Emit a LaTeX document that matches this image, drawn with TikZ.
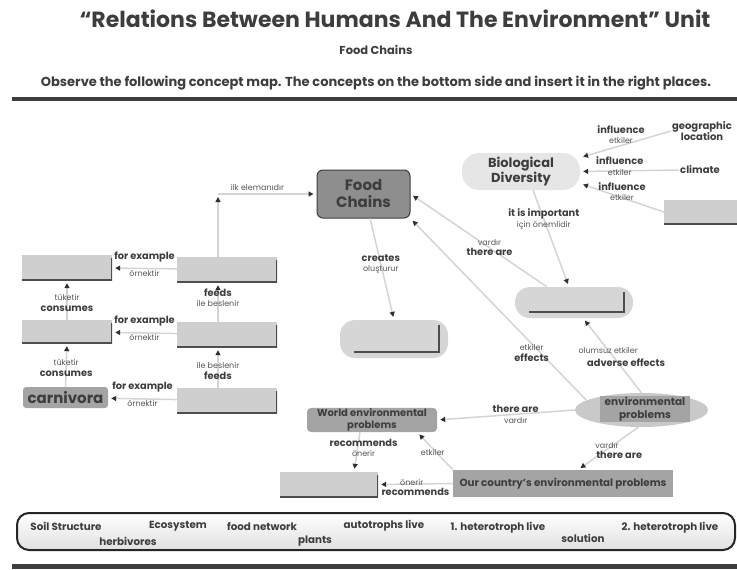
\documentclass[tikz,border=0pt]{standalone}
\usepackage{fontspec}
\setmainfont{Poppins}
\usepackage{tikz}
\usetikzlibrary{arrows.meta,calc,positioning,shapes}
\definecolor{ink}{HTML}{3D3D3D}
\definecolor{inklight}{HTML}{555555}
\definecolor{linkgray}{HTML}{D4D4D4}
\definecolor{tipgray}{HTML}{2F2F2F}
\definecolor{blankgray}{HTML}{CFCFCF}
\definecolor{pillgray}{HTML}{D6D6D6}
\definecolor{chaingray}{HTML}{8E8E8E}
\definecolor{diversgray}{HTML}{E6E6E6}
\definecolor{probgray}{HTML}{A4A4A4}
\definecolor{ellgray}{HTML}{C9C9C9}
\newcommand{\trk}[1]{{\fontsize{8}{9}\selectfont\mdseries\color{inklight}#1}}

\begin{document}
\begin{tikzpicture}[x=1pt,y=-1pt,
  lbl/.style={font=\fontsize{9.8}{10.5}\selectfont\bfseries,text=ink,align=center,inner sep=1pt},
  link/.style={draw=linkgray,line width=1.5pt,shorten >=3pt,-{Triangle[length=5pt,width=5pt,color=tipgray]}},
  blank/.style={fill=blankgray,minimum width=100pt,minimum height=25pt,inner sep=0pt,
    path picture={\draw[tipgray!85,line width=3pt]
      (path picture bounding box.south west) -- (path picture bounding box.south east)
      -- ([yshift=-3pt]path picture bounding box.north east);}},
  pill/.style={fill=pillgray,rounded corners=15pt,inner sep=0pt,
    path picture={\draw[tipgray!85,line width=1.6pt,sharp corners]
      ([xshift=14pt,yshift=6pt]path picture bounding box.south west)
      -- ([xshift=-9pt,yshift=6pt]path picture bounding box.south east)
      -- ([xshift=-9pt,yshift=-5pt]path picture bounding box.north east);}},
  concept/.style={font=\fontsize{10}{11.5}\selectfont\bfseries,text=ink,align=center,inner sep=1pt},
  word/.style={font=\fontsize{10.3}{12}\selectfont\bfseries,text=ink}]
\useasboundingbox (0,0) rectangle (737,570);

\node[font=\fontsize{22}{25}\selectfont\bfseries,text=ink] (title) at (395,19) {“Relations Between Humans And The Environment” Unit};
\node[font=\fontsize{11.5}{13}\selectfont\bfseries,text=ink] (sub) at (376,50) {Food Chains};
\node[font=\fontsize{13}{14}\selectfont\bfseries,text=ink] (task) at (376,83) {Observe the following concept map. The concepts on the bottom side and insert it in the right places.};
\draw[ink,line width=4pt] (12,99) -- (737,99);

\node[concept,fill=chaingray,draw=ink,line width=1pt,rounded corners=6pt,minimum width=93pt,minimum height=48pt,font=\fontsize{15}{17}\selectfont\bfseries] (chains) at (363.5,194) {Food\\Chains};
\node[concept,fill=diversgray,rounded corners=17pt,minimum width=118pt,minimum height=37pt,font=\fontsize{13}{15}\selectfont\bfseries] (diversity) at (521,171.5) {Biological\\Diversity};
\node[concept] (geo) at (702,131) {geographic\\location};
\node[concept] (climate) at (700,170) {climate};
\node[blank,minimum width=80pt,minimum height=24pt] (rblank) at (704,212) {};
\node[pill,minimum width=118pt,minimum height=31pt] (mpill) at (574,302.5) {};
\node[pill,minimum width=108pt,minimum height=38pt] (cpill) at (394,339) {};

\node[blank,minimum width=90pt] (l1) at (67,267.5) {};
\node[blank,minimum width=90pt,minimum height=23pt] (l2) at (67,331.5) {};
\node[concept,fill=probgray,rounded corners=3pt,minimum width=85pt,minimum height=21pt,font=\fontsize{15}{17}\selectfont\bfseries] (carn) at (65.5,397.5) {carnivora};
\node[blank] (r1) at (227,269.5) {};
\node[blank] (r2) at (227,334.5) {};
\node[blank] (r3) at (227,400.5) {};
\coordinate (corner) at (218,194);

\node[ellipse,fill=ellgray,minimum width=133pt,minimum height=34pt] (env) at (641.5,410) {};
\node[concept,fill=probgray,minimum width=90pt,font=\fontsize{10.5}{12.5}\selectfont\bfseries] (envtag) at (645,409) {environmental\\problems};
\node[concept,fill=probgray,rounded corners=4pt,minimum width=130pt,minimum height=24pt] (world) at (372,420) {World environmental\\problems};
\node[concept,fill=probgray,minimum width=220pt,minimum height=27pt,font=\fontsize{10.3}{12}\selectfont\bfseries] (our) at (563,483.5) {Our country’s environmental problems};
\node[blank,minimum width=98pt] (bb) at (329,484.5) {};

\path (geo.west) edge[link] node[lbl,pos=0.55,above=0pt]{influence\\\trk{etkiler}} ([yshift=14pt]diversity.east);
\path (climate.west) edge[link] node[lbl,pos=0.6,yshift=5pt]{influence\\\trk{etkiler}} (diversity.east);
\path (rblank.west) edge[link] node[lbl,pos=0.5,yshift=6pt]{influence\\\trk{etkiler}} ([yshift=-12pt]diversity.east);
\path ([xshift=12pt]diversity.south) edge[link] node[lbl,pos=0.3]{it is important\\\trk{için önemlidir}} ([xshift=-5pt]mpill.north);
\path (mpill.150) edge[link] node[lbl,pos=0.42]{\trk{vardır}\\there are} (chains.east);
\path (chains.-75) edge[link] node[lbl,pos=0.45]{creates\\\trk{oluşturur}} (cpill.north);
\path (env.north) edge[link] node[lbl,pos=0.57]{\trk{olumsuz etkiler}} node[lbl,pos=0.4,xshift=8pt]{adverse effects} (mpill.-60);
\path (env.170) edge[link] node[lbl,pos=0.26,xshift=-9pt]{\trk{etkiler}\\effects} (chains.south east);
\path (env.west) edge[link] node[lbl,pos=0.43]{there are\\\trk{vardır}} (world.east);
\path (env.-100) edge[link] node[lbl,pos=0.42,xshift=-6pt]{\trk{vardır}} node[lbl,pos=0.65,xshift=20pt]{there are} ([xshift=15pt]our.north);
\path (our.north west) edge[link] node[lbl,pos=0.45,xshift=-4pt]{\trk{etkiler}} ([xshift=-20pt]world.south east);
\path ([xshift=-12pt]world.south) edge[link] node[lbl,pos=0.4,xshift=6pt]{recommends\\\trk{önerir}} ([xshift=25pt]bb.north);
\path (our.west) edge[link] node[lbl,pos=0.55,above=-3pt]{\trk{önerir}} node[lbl,pos=0.5,below=2pt]{recommends} (bb.east);

\path ([xshift=-9pt]r1.north) edge[link] (corner);
\path (corner) edge[link] node[lbl,pos=0.4,above=2pt]{\trk{ilk elemanıdır}} (chains.west);
\path (r1) edge[link] node[lbl,above=5pt]{for example} node[lbl,below=0pt]{\trk{örnektir}} (l1);
\path (r2) edge[link] node[lbl,above=5pt]{for example} node[lbl,below=0pt]{\trk{örnektir}} (l2);
\path (r3) edge[link] node[lbl,above=5pt]{for example} node[lbl,below=0pt]{\trk{örnektir}} (carn);
\path (l2.north) edge[link] node[lbl,pos=0.43]{\trk{tüketir}\\consumes} (l1.south);
\path (carn.north) edge[link] node[lbl,pos=0.43]{\trk{tüketir}\\consumes} (l2.south);
\path ([xshift=-9pt]r2.north) edge[link] node[lbl,pos=0.61]{feeds\\\trk{ile beslenir}} ([xshift=-9pt]r1.south);
\path ([xshift=-9pt]r3.north) edge[link] node[lbl,pos=0.41]{\trk{ile beslenir}\\feeds} ([xshift=-9pt]r2.south);

\node[draw=black!85,line width=2pt,rounded corners=12pt,top color=white,bottom color=black!12,minimum width=718pt,minimum height=37pt] (bank) at (376,531.5) {};
\node[word] (w1) at (66,526) {Soil Structure};
\node[word] (w2) at (128,541) {herbivores};
\node[word] (w3) at (178,526) {Ecosystem};
\node[word] (w4) at (262,526) {food network};
\node[word] (w5) at (315,541) {plants};
\node[word] (w6) at (384,526) {autotrophs live};
\node[word] (w7) at (498,528) {1. heterotroph live};
\node[word] (w8) at (583,538) {solution};
\node[word] (w9) at (670,528) {2. heterotroph live};
\draw[ink,line width=5pt] (12,566) -- (737,566);
\end{tikzpicture}
\end{document}
